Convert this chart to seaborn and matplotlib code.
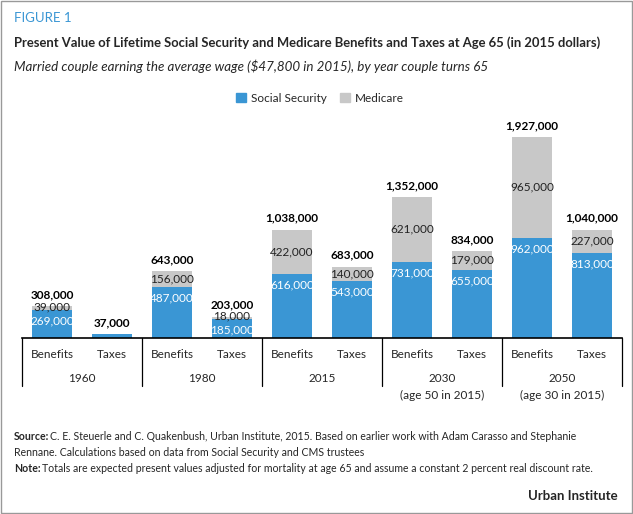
import matplotlib
matplotlib.use("Agg")
import matplotlib.pyplot as plt
import seaborn as sns
import pandas as pd
from matplotlib.patches import Rectangle, Patch

years = ["1960", "1980", "2015", "2030", "2050"]
kinds = ["Benefits", "Taxes"]
social_security = [269000, 37000, 487000, 185000, 616000, 543000, 731000, 655000, 962000, 813000]
medicare = [39000, 0, 156000, 18000, 422000, 140000, 621000, 179000, 965000, 227000]
notes = ["", "", "", "(age 50 in 2015)", "(age 30 in 2015)"]

blue = "#3A96D4"
grey = "#C8C8C8"

labels = [f"{y} {k}" for y in years for k in kinds]
df = pd.DataFrame({"bar": labels, "ss": social_security, "med": medicare})
df["total"] = df["ss"] + df["med"]

sns.set_style("white")
plt.rcParams["font.family"] = ["Lato", "DejaVu Sans"]

fig = plt.figure(figsize=(6.33, 5.14), dpi=100)
ax = fig.add_axes([22 / 633, 1 - 338 / 514, 600 / 633, 219 / 514])
sns.barplot(data=df, x="bar", y="total", color=grey, width=0.67, saturation=1, linewidth=0, ax=ax)
sns.barplot(data=df, x="bar", y="ss", color=blue, width=0.67, saturation=1, linewidth=0, ax=ax)
ax.set_ylim(0, 2100000)
ax.set_xlim(-0.5, 9.5)
ax.set_xticks([])
ax.set_yticks([])
ax.set_xlabel("")
ax.set_ylabel("")
for s in ["top", "left", "right"]:
    ax.spines[s].set_visible(False)
ax.spines["bottom"].set_color("black")
ax.spines["bottom"].set_linewidth(1.2)

pad = 2100000 / 219  # value per pixel
for i, r in df.iterrows():
    ax.text(i, r["total"] + 6 * pad, f"{r['total']:,}", ha="center", va="bottom",
            fontsize=8.5, fontweight="bold", color="black")
    if r["med"] == 0:
        continue
    ax.text(i, r["ss"] - 11 * pad, f"{r['ss']:,}", ha="center", va="center",
            fontsize=8.5, color="white")
    if r["med"] > 60000:
        my = r["ss"] + r["med"] / 2
    else:
        my = r["ss"] + 3 * pad
    ax.text(i, my, f"{r['med']:,}", ha="center", va="center", fontsize=8.5, color="#222222")

# category axis below
for i, lab in enumerate(labels):
    ax.text(i, -17 * pad, lab.split()[1], ha="center", va="center", fontsize=8.5)
for g, (y, n) in enumerate(zip(years, notes)):
    ax.text(2 * g + 0.5, -40 * pad, y, ha="center", va="center", fontsize=8.5)
    if n:
        ax.text(2 * g + 0.5, -57 * pad, n, ha="center", va="center", fontsize=8.5)
for g in range(6):
    ax.plot([2 * g - 0.5, 2 * g - 0.5], [0, -48 * pad], color="black", lw=0.9, clip_on=False)

fig.legend(handles=[Patch(color=blue, label="Social Security"), Patch(color=grey, label="Medicare")],
           loc="center", bbox_to_anchor=(320 / 633, 1 - 98 / 514), ncol=2, frameon=False,
           fontsize=8.5, handlelength=0.8, handleheight=0.8, columnspacing=1.2, handletextpad=0.4)

fig.text(14 / 633, 1 - 18 / 514, "FIGURE 1", color=blue, fontsize=9.5, va="center")
fig.text(14 / 633, 1 - 43 / 514,
         "Present Value of Lifetime Social Security and Medicare Benefits and Taxes at Age 65 (in 2015 dollars)",
         fontsize=9.4, fontweight="bold", va="center")
fig.text(14 / 633, 1 - 66 / 514,
         "Married couple earning the average wage ($47,800 in 2015), by year couple turns 65",
         fontsize=9.6, style="italic", va="center")

foot = 7.6
fig.text(14 / 633, 1 - 437 / 514, "Source:", fontsize=foot, fontweight="bold", va="center")
fig.text(50 / 633, 1 - 437 / 514,
         "C. E. Steuerle and C. Quakenbush, Urban Institute, 2015. Based on earlier work with Adam Carasso and Stephanie",
         fontsize=foot, va="center")
fig.text(14 / 633, 1 - 453 / 514,
         "Rennane. Calculations based on data from Social Security and CMS trustees", fontsize=foot, va="center")
fig.text(14 / 633, 1 - 469 / 514, "Note:", fontsize=foot, fontweight="bold", va="center")
fig.text(42 / 633, 1 - 469 / 514,
         "Totals are expected present values adjusted for mortality at age 65 and assume a constant 2 percent real discount rate.",
         fontsize=foot, va="center")
fig.text(618 / 633, 1 - 496 / 514, "Urban Institute", fontsize=9.5, fontweight="bold", ha="right", va="center")

fig.patches.append(Rectangle((0.002, 0.002), 0.996, 0.996, transform=fig.transFigure,
                             fill=False, edgecolor="#999999", lw=1.0))
fig.savefig("out.png", dpi=100)
